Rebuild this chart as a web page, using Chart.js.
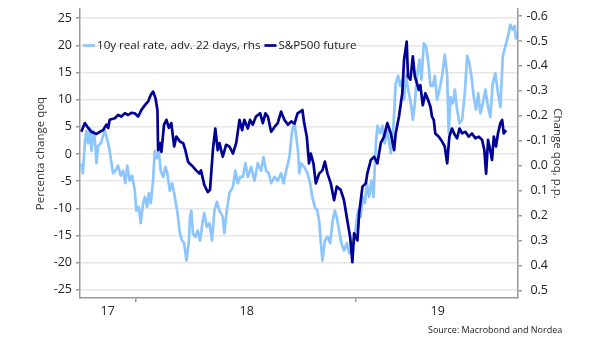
<!DOCTYPE html>
<html><head><meta charset="utf-8">
<script src="https://cdn.jsdelivr.net/npm/chart.js@4.4.1/dist/chart.umd.min.js"></script>
<style>html,body{margin:0;padding:0;background:#fff}#wrap{width:605px;height:341px}</style>
</head><body><div id="wrap"><canvas id="c" width="605" height="341"></canvas></div>
<script>
const seriesNames = ['10y real rate, adv. 22 days, rhs', 'S&P500 future'];

// 10y real rate change qoq, p.p. (right axis, inverted), dates as decimal years
const rateDates = [2017.749,2017.758,2017.767,2017.774,2017.782,2017.790,2017.797,2017.805,2017.812,2017.820,
2017.827,2017.840,2017.850,2017.858,2017.870,2017.880,2017.888,2017.895,2017.906,2017.918,
2017.930,2017.941,2017.951,2017.960,2017.971,2017.982,2017.994,2018.001,2018.012,2018.021,
2018.032,2018.040,2018.050,2018.058,2018.067,2018.077,2018.085,2018.094,2018.103,2018.112,
2018.123,2018.133,2018.142,2018.153,2018.164,2018.176,2018.188,2018.199,2018.209,2018.218,
2018.229,2018.240,2018.245,2018.251,2018.258,2018.270,2018.280,2018.291,2018.303,2018.310,
2018.321,2018.333,2018.345,2018.356,2018.367,2018.379,2018.394,2018.401,2018.412,2018.424,
2018.440,2018.451,2018.462,2018.473,2018.485,2018.497,2018.508,2018.523,2018.538,2018.553,
2018.568,2018.579,2018.591,2018.603,2018.614,2018.629,2018.644,2018.659,2018.670,2018.682,
2018.697,2018.709,2018.720,2018.726,2018.736,2018.742,2018.751,2018.764,2018.779,2018.791,
2018.801,2018.812,2018.824,2018.832,2018.840,2018.847,2018.858,2018.870,2018.882,2018.892,
2018.903,2018.912,2018.923,2018.933,2018.945,2018.958,2018.968,2018.979,2018.991,2018.999,
2019.009,2019.021,2019.029,2019.040,2019.049,2019.059,2019.070,2019.079,2019.090,2019.097,
2019.109,2019.120,2019.130,2019.142,2019.158,2019.170,2019.180,2019.191,2019.200,2019.210,
2019.218,2019.227,2019.240,2019.251,2019.258,2019.267,2019.277,2019.288,2019.297,2019.308,
2019.318,2019.330,2019.338,2019.349,2019.358,2019.368,2019.379,2019.391,2019.403,2019.414,
2019.421,2019.429,2019.440,2019.449,2019.459,2019.470,2019.482,2019.494,2019.505,2019.515,
2019.524,2019.535,2019.545,2019.555,2019.565,2019.576,2019.588,2019.600,2019.610,2019.621,
2019.633,2019.645,2019.656,2019.667,2019.679,2019.691,2019.701,2019.712,2019.721,2019.727];
const rateValues = [-0.01,0.03,-0.09,-0.14,-0.09,-0.15,-0.06,-0.14,-0.11,-0.01,
-0.08,-0.09,-0.12,-0.14,-0.10,-0.06,-0.01,0.03,0.02,0.00,
0.04,0.02,0.07,0.00,0.06,0.04,0.10,0.18,0.165,0.23,
0.15,0.125,0.165,0.11,0.15,0.06,-0.06,-0.03,-0.06,0.02,
0.045,0.005,0.03,0.10,0.07,0.125,0.19,0.27,0.30,0.31,
0.38,0.30,0.205,0.18,0.27,0.285,0.26,0.30,0.22,0.19,
0.245,0.23,0.30,0.18,0.145,0.18,0.205,0.27,0.18,0.11,
0.085,0.02,0.07,0.045,0.045,-0.01,0.045,0.005,0.06,-0.01,
0.02,-0.035,0.02,0.03,0.07,0.045,0.06,0.03,0.07,0.02,
-0.035,-0.14,-0.17,-0.13,-0.06,0.03,-0.01,0.005,0.03,0.07,
0.125,0.165,0.18,0.22,0.31,0.38,0.30,0.285,0.31,0.23,
0.18,0.205,0.26,0.31,0.34,0.31,0.35,0.34,0.30,0.245,
0.18,0.205,0.125,0.15,0.07,0.125,0.06,0.125,-0.09,-0.16,
-0.13,-0.16,-0.09,-0.14,-0.05,-0.16,-0.33,-0.36,-0.32,-0.345,
-0.265,-0.36,-0.29,-0.24,-0.185,-0.25,-0.36,-0.425,-0.345,-0.49,
-0.48,-0.40,-0.32,-0.32,-0.36,-0.265,-0.305,-0.36,-0.445,-0.36,
-0.13,-0.275,-0.25,-0.305,-0.225,-0.17,-0.185,-0.29,-0.44,-0.41,
-0.36,-0.275,-0.225,-0.29,-0.21,-0.25,-0.305,-0.235,-0.195,-0.33,
-0.37,-0.29,-0.235,-0.44,-0.48,-0.52,-0.565,-0.545,-0.56,-0.505];

// S&P500 future, percent change qoq (left axis)
const spxDates = [2017.751,2017.767,2017.782,2017.797,2017.820,2017.835,2017.850,2017.865,2017.873,2017.880,
2017.903,2017.918,2017.933,2017.949,2017.964,2017.979,2017.994,2018.009,2018.024,2018.040,
2018.055,2018.067,2018.077,2018.088,2018.097,2018.100,2018.108,2018.115,2018.127,2018.138,
2018.149,2018.160,2018.173,2018.183,2018.199,2018.214,2018.224,2018.236,2018.242,2018.258,
2018.273,2018.288,2018.295,2018.310,2018.326,2018.336,2018.349,2018.360,2018.371,2018.379,
2018.394,2018.409,2018.424,2018.440,2018.455,2018.470,2018.482,2018.492,2018.508,2018.518,
2018.530,2018.545,2018.564,2018.576,2018.588,2018.599,2018.614,2018.629,2018.644,2018.659,
2018.674,2018.690,2018.705,2018.720,2018.734,2018.756,2018.764,2018.776,2018.786,2018.794,
2018.806,2018.817,2018.832,2018.847,2018.858,2018.870,2018.885,2018.900,2018.912,2018.930,
2018.945,2018.960,2018.973,2018.983,2018.991,2019.006,2019.014,2019.029,2019.044,2019.051,
2019.067,2019.082,2019.097,2019.112,2019.127,2019.142,2019.158,2019.173,2019.180,2019.195,
2019.210,2019.218,2019.230,2019.236,2019.247,2019.258,2019.267,2019.277,2019.285,2019.292,
2019.303,2019.315,2019.327,2019.338,2019.345,2019.353,2019.360,2019.376,2019.391,2019.403,
2019.414,2019.424,2019.436,2019.449,2019.459,2019.470,2019.482,2019.497,2019.512,2019.527,
2019.542,2019.558,2019.573,2019.583,2019.591,2019.600,2019.610,2019.618,2019.626,2019.636,
2019.645,2019.656,2019.664,2019.671,2019.682];
const spxValues = [4.1,5.7,4.8,4.1,3.7,4.1,4.4,5.4,4.8,6.3,
6.6,7.2,6.9,7.5,7.2,7.6,7.5,6.9,8.1,9.0,
9.7,10.9,11.5,10.3,8.1,0.7,2.0,0.4,5.4,6.3,
4.8,5.7,1.4,3.2,2.3,2.0,0.7,-1.4,-1.7,-2.3,
-3.0,-3.6,-3.0,-5.7,-7.0,-6.6,0.7,4.7,0.7,2.0,
-0.5,1.7,1.4,0.1,2.0,6.3,4.4,6.3,4.7,6.3,
5.4,6.9,7.5,5.7,7.5,6.9,4.1,5.0,5.7,7.8,
6.3,5.4,6.0,5.6,7.5,8.1,5.7,3.2,-1.7,0.1,
-1.7,-5.4,-3.6,-3.0,-1.4,-3.6,-5.4,-8.5,-6.0,-6.6,
-8.5,-12.2,-15.3,-19.9,-14.6,-15.9,-10.9,-6.0,-5.4,-3.6,
-1.1,-0.5,-1.7,2.0,3.2,5.7,3.8,0.7,3.8,6.9,
11.2,17.3,20.7,14.3,13.7,18.0,14.3,13.0,11.8,12.7,
9.0,11.2,10.0,8.7,6.9,6.3,3.8,3.2,2.3,1.4,
-1.7,3.2,4.7,3.5,2.9,4.7,3.8,4.1,3.2,3.8,
2.9,3.2,2.6,0.7,-3.6,2.6,0.7,-1.1,3.2,1.4,
3.8,5.7,6.3,3.8,4.4];

// x axis: year labels centred in each visible year, tick marks at year starts
const yearLabels = ['17', '18', '19'];
const yearLabelPos = [2017.871, 2018.503, 2019.371];
const yearStarts = [2018, 2019];
const sourceText = 'Source: Macrobond and Nordea';

const LIGHT = '#8cc6fc';
const DARK = '#000096';
const FAM = "'Open Sans', sans-serif";
Chart.defaults.font.family = FAM;
Chart.defaults.color = '#222';

const inlineLegend = {
  id: 'inlineLegend',
  afterDatasetsDraw(chart) {
    const c = chart.ctx;
    c.save();
    c.font = '11.6px ' + FAM;
    c.textBaseline = 'middle';
    let x = chart.chartArea.left + 3;
    const y = 45.5;
    chart.data.datasets.forEach(ds => {
      c.strokeStyle = ds.borderColor;
      c.lineWidth = 2.7;
      c.beginPath(); c.moveTo(x, y); c.lineTo(x + 12, y); c.stroke();
      x += 14;
      c.fillStyle = '#1a1a1a';
      c.fillText(ds.label, x, y);
      x += c.measureText(ds.label).width + 4;
    });
    c.restore();
  }
};
const sourceNote = {
  id: 'sourceNote',
  afterDraw(chart) {
    const c = chart.ctx;
    c.save();
    c.font = '9px ' + FAM;
    c.fillStyle = '#1a1a1a';
    c.textBaseline = 'middle';
    c.textAlign = 'left';
    c.fillText(sourceText, 428, 330.5);
    c.restore();
  }
};

const xTicks = [...yearLabelPos, ...yearStarts].sort((a, b) => a - b);

new Chart(document.getElementById('c'), {
  type: 'line',
  data: {
    datasets: [
      { label: seriesNames[0], data: rateDates.map((d, i) => ({ x: d, y: rateValues[i] })), yAxisID: 'y1',
        borderColor: LIGHT, borderWidth: 2.7, pointRadius: 0, tension: 0, order: 1, borderJoinStyle: 'round' },
      { label: seriesNames[1], data: spxDates.map((d, i) => ({ x: d, y: spxValues[i] })), yAxisID: 'y',
        borderColor: DARK, borderWidth: 2.7, pointRadius: 0, tension: 0, order: 0, borderJoinStyle: 'round' }
    ]
  },
  options: {
    responsive: false, animation: false,
    layout: { padding: { left: 30, right: 57, top: 9, bottom: 0 } },
    plugins: { legend: { display: false }, tooltip: { enabled: false } },
    scales: {
      x: {
        type: 'linear', position: 'bottom', min: 2017.745, max: 2019.736,
        afterBuildTicks: s => { s.ticks = xTicks.map(v => ({ value: v })); },
        afterFit: s => { s.height = 43; s.paddingLeft = 0; s.paddingRight = 0; },
        ticks: { autoSkip: false, maxRotation: 0, padding: 2, font: { size: 12.5 },
          callback: v => { const i = yearLabelPos.indexOf(v); return i >= 0 ? yearLabels[i] : ''; } },
        grid: { drawOnChartArea: false, tickLength: 4, lineWidth: 1.5,
          tickColor: c => (c.tick && yearStarts.includes(c.tick.value)) ? '#999' : 'rgba(0,0,0,0)' },
        border: { color: '#999', width: 1.5 }
      },
      y: {
        position: 'left', min: -26.5, max: 26.7,
        ticks: { stepSize: 5, includeBounds: false, padding: 4, font: { size: 12.5 } },
        grid: { color: '#e6e6e6', lineWidth: 1.5, tickLength: 4, tickColor: '#999' },
        border: { color: '#999', width: 1.5 },
        title: { display: true, text: 'Percenta change qoq', font: { size: 11.5 }, color: '#333', padding: { top: 4, bottom: 0 } },
        afterFit: s => { s.width = 50; s.paddingTop = 0; s.paddingBottom = 0; }
      },
      y1: {
        position: 'right', reverse: true, min: -0.628, max: 0.53,
        ticks: { stepSize: 0.1, includeBounds: false, padding: 4, crossAlign: 'far', font: { size: 12.5 },
          callback: v => (Math.abs(v) < 1e-9 ? 0 : v).toFixed(1) },
        grid: { drawOnChartArea: false, tickLength: 4, tickColor: '#999', lineWidth: 1.5 },
        border: { color: '#999', width: 1.5 },
        title: { display: true, text: 'Change qoq, p.p.', font: { size: 11.5 }, color: '#333', padding: { top: -15.9, bottom: 0 } },
        afterFit: s => { s.width = 30; s.paddingTop = 0; s.paddingBottom = 0; }
      }
    }
  },
  plugins: [inlineLegend, sourceNote]
});
</script></body></html>
